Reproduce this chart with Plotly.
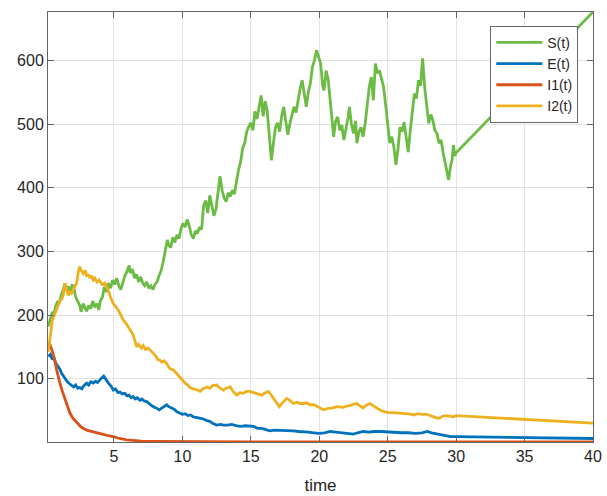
import plotly.graph_objects as go

# ---- data ----
t_S = [0.2,0.35,0.5,0.6,0.75,0.9,1.0,1.15,1.3,1.4,1.5,1.65,1.8,1.95,2.1,2.2,2.35,2.5,2.6,2.75,2.9,3.0,3.15,3.3,3.45,3.6,3.75,3.9,4.0,4.15,4.3,4.45,4.6,4.75,4.9,5.05,5.2,5.35,5.5,5.65,5.8,5.95,6.1,6.2,6.35,6.5,6.65,6.8,6.95,7.1,7.25,7.4,7.55,7.7,7.85,8.0,8.15,8.3,8.45,8.6,8.75,8.9,9.0,9.15,9.3,9.45,9.6,9.75,9.9,10.05,10.2,10.35,10.5,10.65,10.8,10.95,11.1,11.25,11.4,11.55,11.7,11.85,12.0,12.15,12.3,12.45,12.6,12.75,12.9,13.05,13.2,13.35,13.5,13.65,13.8,13.95,14.1,14.25,14.4,14.55,14.7,14.85,15.0,15.15,15.3,15.45,15.6,15.75,15.9,16.05,16.2,16.35,16.5,16.65,16.8,16.95,17.1,17.25,17.4,17.55,17.7,17.85,18.0,18.15,18.3,18.45,18.6,18.75,18.9,19.05,19.2,19.35,19.5,19.65,19.8,19.95,20.1,20.25,20.35,20.5,20.65,20.8,20.95,21.05,21.2,21.35,21.5,21.65,21.8,21.95,22.1,22.2,22.35,22.5,22.65,22.75,22.9,23.05,23.2,23.35,23.5,23.65,23.8,23.95,24.1,24.25,24.4,24.55,24.7,24.85,25.0,25.15,25.3,25.45,25.6,25.75,25.9,26.05,26.2,26.35,26.5,26.65,26.8,26.95,27.1,27.25,27.4,27.55,27.7,27.85,28.0,28.15,28.3,28.45,28.6,28.75,28.9,29.05,29.2,29.35,29.45,29.6,29.7,29.8,29.9,30.0,40]
S = [182,195,205,200,215,222,218,232,240,250,238,245,236,248,240,228,222,215,205,218,210,206,215,210,222,212,218,208,222,228,244,236,250,242,255,248,258,246,240,252,262,268,278,266,272,258,264,252,260,250,246,252,242,246,240,248,252,262,270,284,300,318,310,306,322,314,326,320,336,344,338,350,340,326,320,332,328,338,334,372,380,360,388,372,356,366,392,418,396,384,378,392,386,396,390,410,428,440,462,470,488,496,502,490,520,508,530,545,512,536,520,486,443,470,495,502,488,512,527,505,483,500,512,527,518,540,555,569,548,527,550,564,590,600,616,605,595,560,553,584,570,537,500,480,505,511,490,498,475,492,510,527,500,485,505,470,488,495,480,500,530,558,574,537,595,580,584,570,558,530,500,470,480,464,436,460,495,488,503,480,456,490,520,548,540,569,560,603,558,530,501,515,506,490,485,470,475,455,438,425,412,435,443,467,450,455,676]

t_E = [0.2,0.35,0.5,0.6,0.75,0.9,1.05,1.18,1.3,1.45,1.6,1.75,1.9,2.05,2.2,2.35,2.5,2.65,2.8,3.0,3.15,3.3,3.5,3.65,3.8,3.95,4.1,4.25,4.4,4.6,4.8,4.95,5.1,5.3,5.45,5.6,5.8,5.95,6.1,6.25,6.4,6.55,6.7,6.9,7.05,7.2,7.4,7.6,7.8,7.95,8.1,8.3,8.5,8.7,8.85,9.0,9.2,9.4,9.6,9.8,10.0,10.2,10.4,10.6,10.8,11.0,11.3,11.5,11.8,12.0,12.2,12.5,12.8,13.0,13.3,13.6,14.0,14.3,14.6,14.9,15.2,15.5,15.8,16.1,16.4,16.7,17.1,17.5,17.8,18.1,18.5,18.8,19.2,19.6,20.0,20.4,20.8,21.2,21.7,22.1,22.5,22.8,23.2,23.6,24.0,24.5,25.0,25.5,26.0,26.5,27.0,27.5,27.9,28.2,28.6,29.0,29.3,29.6,30.0,40]
E = [135,138,130,134,124,120,115,108,104,98,95,92,89,87,90,85,86,84,89,93,90,95,93,96,94,98,101,104,99,93,88,82,84,78,79,76,77,73,74,70,72,68,70,66,68,65,64,60,57,55,54,51,54,58,59,56,54,52,48,46,44,45,42,43,40,39,38,37,34,33,30,27,28,27,27,28,26,25,26,25,25,22,22,20,18,19,19,18,19,18,17,17,16,15,14,15,17,16,15,14,13,15,17,16,17,17,16,16,15,15,14,15,17,15,13,11,10,9,9,6]

t_I1 = [0.2,0.35,0.5,0.6,0.7,0.81,0.93,1.05,1.2,1.42,1.6,1.78,2.0,2.27,2.6,3.0,3.5,3.98,4.5,4.95,5.4,5.93,6.5,7.0,8.0,10,15,20,25,30,40]
I1 = [158,152,143,136,126,114,102,93,82,67,55,46,38,31,24,19,16,14,11,9,6,4,3,2,1.5,1,0.8,0.7,0.6,0.6,0.5]

t_I2 = [0.2,0.3,0.4,0.5,0.65,0.8,0.93,1.05,1.2,1.3,1.42,1.55,1.66,1.8,1.9,2.0,2.15,2.27,2.4,2.5,2.6,2.76,2.9,3.0,3.12,3.25,3.35,3.49,3.6,3.75,3.9,4.0,4.15,4.34,4.45,4.58,4.75,4.95,5.1,5.3,5.5,5.68,5.85,6.05,6.2,6.4,6.55,6.66,6.8,7.0,7.14,7.3,7.5,7.7,7.87,8.05,8.2,8.36,8.5,8.65,8.85,9.0,9.15,9.33,9.5,9.65,9.82,10.0,10.2,10.4,10.55,10.8,11.0,11.29,11.5,11.8,12.0,12.2,12.5,12.7,13.0,13.2,13.5,13.7,13.97,14.2,14.45,14.7,14.94,15.2,15.4,15.6,15.8,16.0,16.28,16.5,16.65,16.85,17.08,17.3,17.62,17.85,18.1,18.4,18.6,18.84,19.1,19.3,19.57,19.8,20.0,20.3,20.6,21.0,21.3,21.76,22.0,22.3,22.5,22.74,23.0,23.2,23.4,23.7,23.9,24.2,24.5,24.93,25.3,25.6,25.9,26.2,26.5,26.9,27.2,27.5,27.86,28.1,28.4,28.6,28.8,29.0,29.3,29.56,29.8,30.0,40]
I2 = [142,160,178,192,200,208,213,222,226,232,250,238,231,236,234,239,246,250,268,276,270,265,270,262,263,258,262,255,258,252,255,252,248,250,245,239,228,218,214,208,200,192,188,182,176,169,158,150,154,148,152,146,148,143,140,136,130,129,126,128,124,118,115,114,110,106,103,97,93,90,86,84,83,80,84,87,85,89,90,86,82,85,87,80,74,78,77,80,80,78,77,75,74,77,80,74,69,62,56,62,69,66,61,63,61,61,62,59,59,57,55,51,53,54,56,55,57,58,60,61,57,54,58,61,58,54,50,47,47,46,46,45,45,43,45,44,44,42,40,38,38,41,42,41,40,42,30]

x_ticks = [5, 10, 15, 20, 25, 30, 35, 40]
y_ticks = [100, 200, 300, 400, 500, 600]

series = [
    ("S(t)", t_S, S, "#6cbb45"),
    ("E(t)", t_E, E, "#0072BD"),
    ("I1(t)", t_I1, I1, "#D95319"),
    ("I2(t)", t_I2, I2, "#EDB120"),
]

fig = go.Figure()
for name, tx, vy, col in series:
    fig.add_trace(go.Scatter(x=tx, y=vy, mode="lines", name=name,
                             line=dict(color=col, width=2.8)))

axis_common = dict(
    showgrid=True, gridcolor="#e3e3e3", gridwidth=1,
    showline=True, linecolor="#666666", linewidth=1, mirror="ticks",
    ticks="inside", ticklen=6, tickcolor="#666666",
    zeroline=False, automargin=False,
    tickfont=dict(family="Liberation Sans, Arial, sans-serif", size=16, color="#262626"),
)

fig.update_layout(
    width=607, height=496,
    margin=dict(l=48, r=14, t=12, b=54),
    paper_bgcolor="white", plot_bgcolor="white",
    font=dict(family="Liberation Sans, Arial, sans-serif", color="#262626"),
    xaxis=dict(range=[0.18, 40], tickvals=x_ticks, ticktext=[str(v) for v in x_ticks],
               title=dict(text="time", font=dict(size=17, color="#262626"), standoff=14),
               **axis_common),
    yaxis=dict(range=[0.5, 676], tickvals=y_ticks, ticktext=[str(v) for v in y_ticks],
               **axis_common),
    legend=dict(x=0.973, y=0.968, xanchor="right", yanchor="top",
                bgcolor="white", bordercolor="#666666", borderwidth=1,
                font=dict(size=14, color="#262626"), itemwidth=46,
                tracegroupgap=0),
    showlegend=True,
)

fig.write_html("out.html", config={"displayModeBar": False},
               post_script="document.body.style.margin='0px';")
